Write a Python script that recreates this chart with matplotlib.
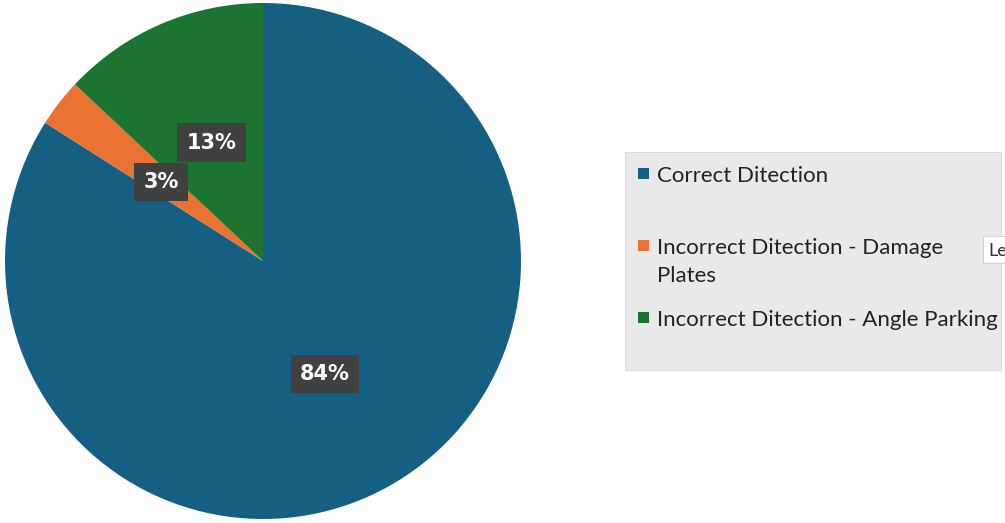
import matplotlib
matplotlib.use("Agg")
import matplotlib.pyplot as plt
from matplotlib.patches import Rectangle

# data
labels = ["Correct Ditection",
          "Incorrect Ditection - Damage\nPlates",
          "Incorrect Ditection - Angle Parking"]
shares = [84, 3, 13]
colors = ["#156082", "#e97132", "#1c7431"]

fig = plt.figure(figsize=(10.05, 5.23), dpi=100)
fig.patch.set_facecolor("white")

# pie on the left, starting at 12 o'clock and going clockwise
ax = fig.add_axes([5 / 1005, 4 / 523, 516 / 1005, 516 / 523])
wedges, texts, autotexts = ax.pie(
    shares, colors=colors, startangle=90, counterclock=False,
    autopct="%.0f%%", pctdistance=0.5,
    wedgeprops=dict(linewidth=0),
    textprops=dict(color="white", fontsize=15, fontweight="bold"),
)
for t in autotexts:
    t.set_bbox(dict(boxstyle="square,pad=0.45", fc="#404040", ec="none"))
ax.set_aspect("equal")
ax.set_xlim(-1, 1)
ax.set_ylim(-1, 1)
ax.axis("off")

# legend drawn by hand so it looks like the office one
def px(x, y):
    return x / 1005, 1 - y / 523

lx, ly = px(625, 370)
fig.patches.append(Rectangle((lx, ly), 376 / 1005, 218 / 523,
                             transform=fig.transFigure, fc="#e9e9e9",
                             ec="#dcdcdc", lw=0.8, zorder=1))

baselines = [182, 254, 326]
line_gap = 28
for lab, col, yb in zip(labels, colors, baselines):
    sx, sy = px(638, yb - 3)
    fig.patches.append(Rectangle((sx, sy), 11 / 1005, 11 / 523,
                                 transform=fig.transFigure, fc=col,
                                 ec="none", zorder=2))
    for i, line in enumerate(lab.split("\n")):
        tx, ty = px(657, yb + i * line_gap)
        fig.text(tx, ty, line, fontsize=16, color="#222222", va="baseline",
                 ha="left", family="Lato", zorder=3)

# the little tooltip poking in at the right edge
bx, by = px(983, 263)
fig.patches.append(Rectangle((bx, by), 30 / 1005, 27 / 523,
                             transform=fig.transFigure, fc="white",
                             ec="#cccccc", lw=0.6, zorder=4))
tx, ty = px(988, 256)
fig.text(tx, ty, "Le", fontsize=13, color="#333333", family="Lato", zorder=5)

fig.savefig("out.png", dpi=100)
